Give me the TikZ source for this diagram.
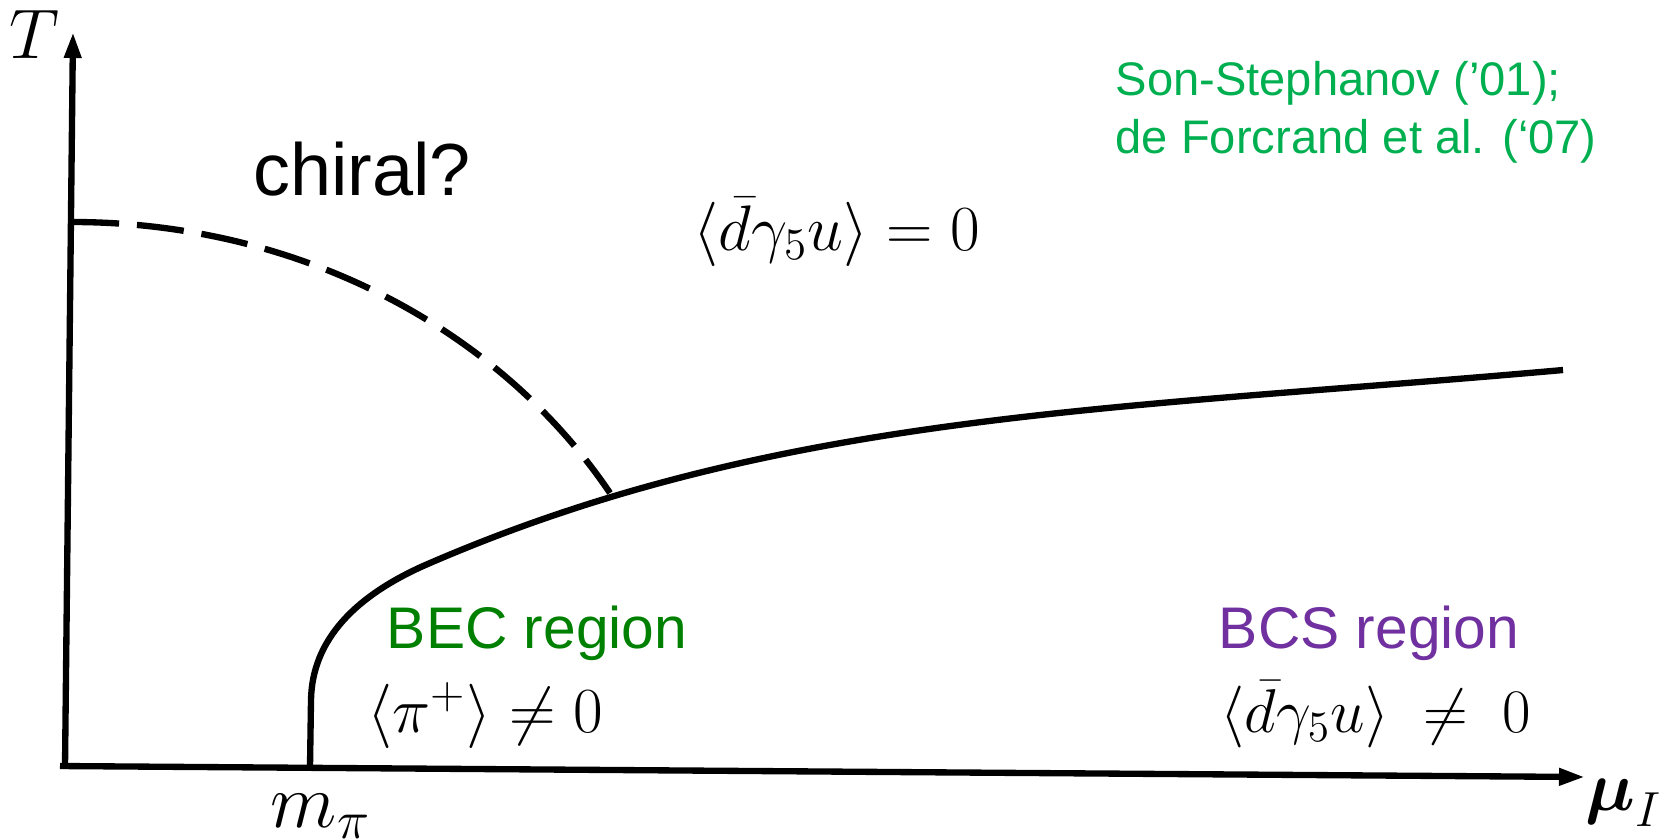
\RequirePackage{fix-cm}
\documentclass[tikz,border=0pt]{standalone}
\usepackage{amsmath, amssymb}
\usepackage{fontspec}
\setsansfont{Liberation Sans}
\usepackage{tikz}
\usetikzlibrary{arrows.meta}
\definecolor{becgreen}{RGB}{0,128,0}
\definecolor{bcspurple}{RGB}{112,48,160}
\definecolor{refgreen}{RGB}{0,176,80}
\tikzset{
  axis/.style={line width=1.8pt, -{Triangle[length=7.4pt,width=4.6pt]}},
  phase/.style={line width=1.8pt},
  crossover/.style={line width=1.8pt, dash pattern=on 13.4pt off 5.1pt},
  lbl/.style={inner sep=0pt, anchor=base}
}
\newcommand{\fs}[1]{\fontsize{#1}{1.2\dimexpr #1pt\relax}\selectfont}
\begin{document}
\begin{tikzpicture}[x=0.01cm, y=-0.01cm]
  \useasboundingbox (0,0) rectangle (1671,839);
  % axes
  \coordinate (origin) at (65,767);
  \coordinate (ttip) at (73,32);
  \coordinate (mutip) at (1585,777);
  \draw[axis] (origin) -- (ttip);
  \draw[axis] (60,766) -- (mutip);
  \node[lbl] (tlabel) at (34,58) {\fs{20}$T$};
  \node[lbl] (mulabel) at (1624,810) {\fs{20}$\boldsymbol{\mu}_{I}$};
  \node[lbl] (mpi) at (321,827) {\fs{22}$m_\pi$};
  % pion condensation boundary
  \coordinate (mpifoot) at (310,767);
  \coordinate (junction) at (610,493);
  \coordinate (bcsend) at (1563,370);
  \draw[phase] (mpifoot) -- (311,700) .. controls (312,640) and (355,595) .. (430,563)
    .. controls (780,412) and (1113,410) .. (bcsend);
  % chiral crossover (dashed)
  \coordinate (tchiral) at (72,222);
  \draw[crossover] (tchiral) .. controls (300,222) and (500,330) .. (junction);
  % labels
  \node[lbl] (chiral) at (362,195) {\fs{21}\sffamily chiral?};
  \node[lbl] (normal) at (837,250) {\fs{18.3}$\langle\bar{d}\gamma_5 u\rangle = 0$};
  \node[lbl, text=becgreen] (bec) at (537,648) {\fs{16.7}\sffamily BEC region};
  \node[lbl] (becop) at (485,732) {\fs{18.3}$\langle\pi^+\rangle \neq 0$};
  \node[lbl, text=bcspurple] (bcs) at (1369,648) {\fs{16.7}\sffamily BCS region};
  \node[lbl] (bcsop) at (1376,732) {\fs{17.6}$\langle\bar{d}\gamma_5 u\rangle\;\neq\;0$};
  \node[lbl, anchor=base west, text=refgreen] (refa) at (1115,95) {\fs{13.4}\sffamily Son-Stephanov (’01);};
  \node[lbl, anchor=base west, text=refgreen] (refb) at (1115,153) {\fs{13.4}\sffamily de Forcrand et al. (‘07)};
\end{tikzpicture}
\end{document}
